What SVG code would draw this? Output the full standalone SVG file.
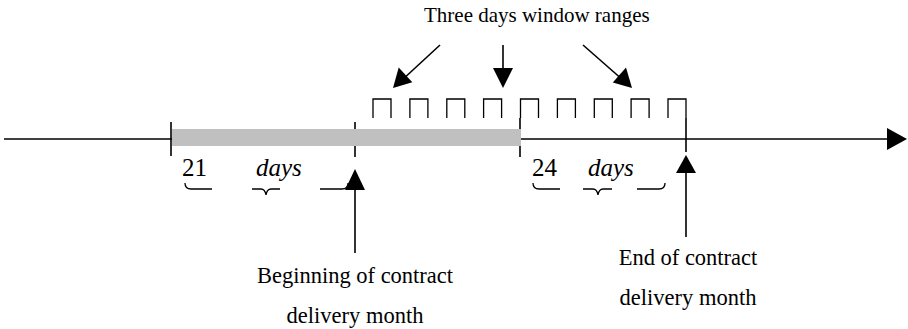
<svg xmlns="http://www.w3.org/2000/svg" width="908" height="329" viewBox="0 0 908 329">
<style>
.ln{stroke:#000;stroke-width:1.6;fill:none}
.thin{stroke:#000;stroke-width:1.3;fill:none}
.head{fill:#000;stroke:none}
.t{font-family:"Liberation Serif",serif;fill:#000}
.lab{font-size:22.5px;text-anchor:middle}
.num{font-size:25px}
.it{font-size:25px;font-style:italic}
</style>
<rect width="908" height="329" fill="#fff"/>
<g id="axis">
<line class="ln" x1="4" y1="139" x2="890" y2="139"/>
<polygon class="head" points="887,128 907,139 887,150"/>
<line class="ln" x1="171" y1="122" x2="171" y2="156"/>
<line class="ln" x1="355" y1="122" x2="355" y2="157"/>
<line class="ln" x1="520" y1="118" x2="520" y2="157"/>
<line class="ln" x1="686" y1="118" x2="686" y2="152"/>
</g>
<g id="bar">
<rect x="172" y="129" width="349" height="17" fill="#c0c0c0"/>
</g>
<g id="windows">
<path class="thin" d="M373,118V99H391V118 M409.9,118V99H427.9V118 M446.8,118V99H464.8V118 M483.6,118V99H501.6V118 M520.5,118V99H538.5V118 M557.4,118V99H575.4V118 M594.3,118V99H612.3V118 M631.1,118V99H649.1V118 M668,118V99H686V118"/>
</g>
<g id="title">
<text class="t" x="424" y="22" font-size="21">Three days window ranges</text>
</g>
<g id="span21">
<text class="t num" x="182" y="176">21</text>
<text class="t it" x="256" y="176" font-family="Liberation Serif, serif" font-style="italic">days</text>
<path class="thin" d="M185,183Q185,189 191,189H212 M252,189H261Q265,189 266,195Q267,189 271,189H280 M320,189H342Q348,189 348,183"/>
</g>
<g id="span24">
<text class="t num" x="532" y="176">24</text>
<text class="t it" x="588" y="176" font-family="Liberation Serif, serif" font-style="italic">days</text>
<path class="thin" d="M533,183Q533,189 539,189H560 M583,189H593Q597,189 598,195Q599,189 603,189H612 M637,189H659Q665,189 665,183"/>
</g>
<g id="begin-label">
<text class="t lab" x="355" y="283">Beginning of contract</text>
<text class="t lab" x="355" y="323">delivery month</text>
</g>
<g id="end-label">
<text class="t lab" x="688" y="265">End of contract</text>
<text class="t lab" x="688" y="305">delivery month</text>
</g>
<g id="connectors">
<line class="ln" x1="440" y1="45" x2="401" y2="81"/>
<polygon class="head" points="393,88 398.7,67.5 412.3,82.2"/>
<line class="ln" x1="503" y1="45" x2="503" y2="70"/>
<polygon class="head" points="493,68 513,68 503,88"/>
<line class="ln" x1="583" y1="45" x2="624" y2="81"/>
<polygon class="head" points="632,88 612.8,82.6 626,67.6"/>
<line class="ln" x1="355" y1="188" x2="355" y2="253"/>
<polygon class="head" points="355,169 345,190 365,190"/>
<line class="ln" x1="686" y1="171" x2="686" y2="237"/>
<polygon class="head" points="686,155 676,173 696,173"/>
</g>
</svg>
